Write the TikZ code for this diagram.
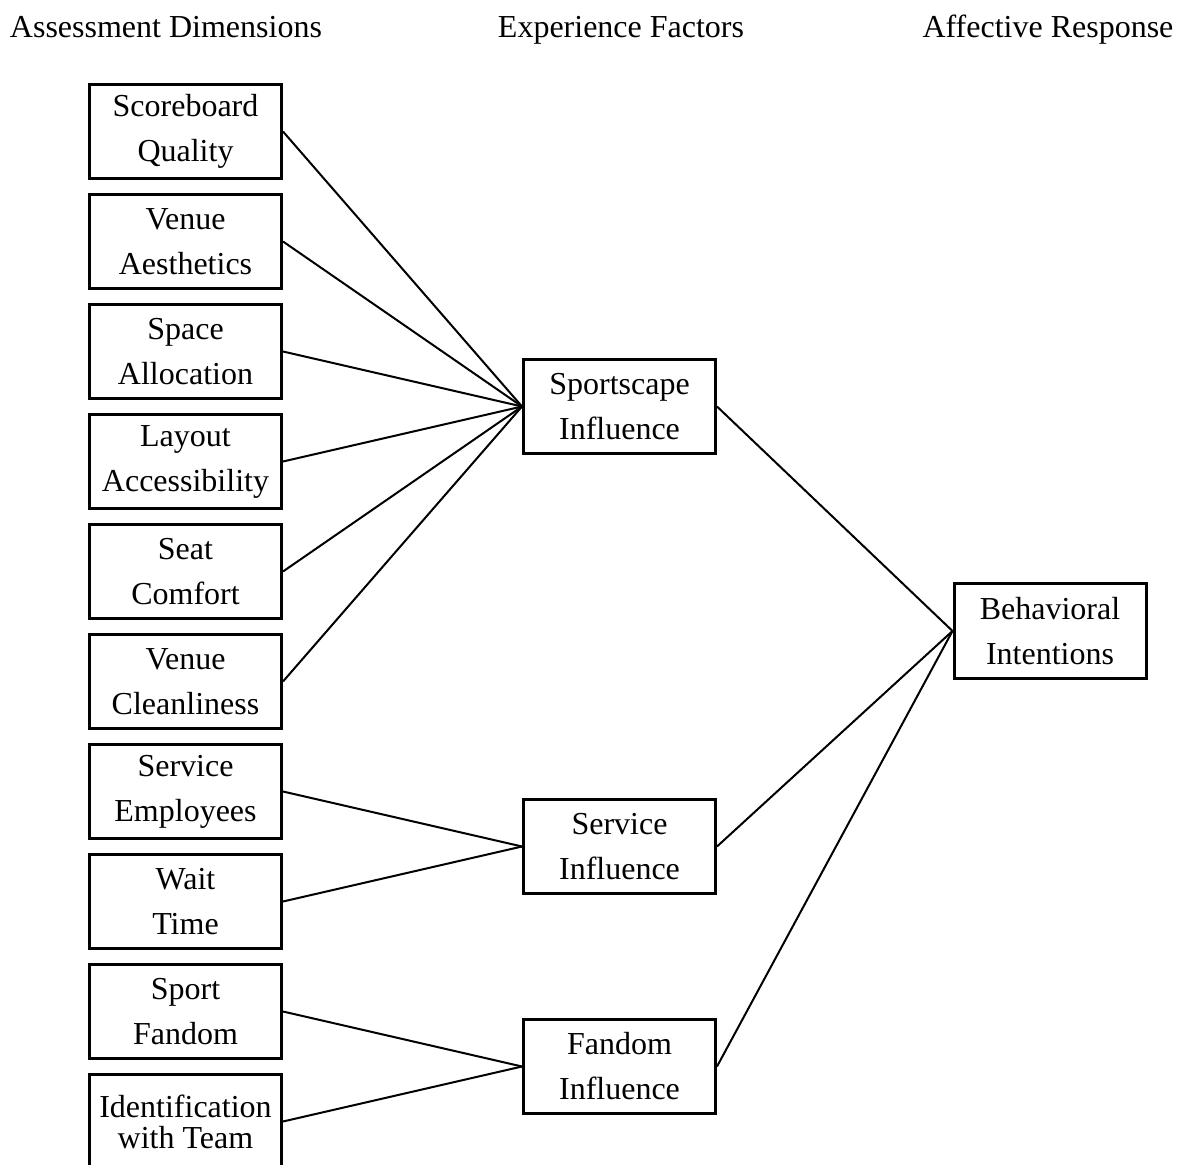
\documentclass[tikz,border=0pt]{standalone}
\usepackage{fontspec}
\setmainfont{Liberation Serif}
\begin{document}
\begin{tikzpicture}[x=0.5pt,y=-0.5pt,
  box/.style={draw, line width=1.5pt, minimum width=96pt, minimum height=47pt, inner sep=0pt, align=center, font=\fontsize{16}{22.5}\selectfont},
  hdr/.style={anchor=base, font=\fontsize{16}{19}\selectfont, inner sep=0pt},
  link/.style={line width=1pt}]
\clip (0,0) rectangle (1178,1165);
% headers
\node[hdr] (h1) at (166,38) {Assessment Dimensions};
\node[hdr] (h2) at (621,38) {Experience Factors};
\node[hdr] (h3) at (1048,38) {Affective Response};
% left column
\node[box] (sq) at (185.5,131.5) {Scoreboard\\Quality};
\node[box] (va) at (185.5,241.5) {Venue\\Aesthetics};
\node[box] (sa) at (185.5,351.5) {Space\\Allocation};
\node[box] (la) at (185.5,461.5) {Layout\\Accessibility};
\node[box] (sc) at (185.5,571.5) {Seat\\Comfort};
\node[box] (vc) at (185.5,681.5) {Venue\\Cleanliness};
\node[box] (se) at (185.5,791.5) {Service\\Employees};
\node[box] (wt) at (185.5,901.5) {Wait\\Time};
\node[box] (sf) at (185.5,1011.5) {Sport\\Fandom};
\node[box, font=\fontsize{16}{15.5}\selectfont] (it) at (185.5,1121.5) {Identification\\with Team};
% middle column
\node[box] (sp) at (619.5,406.5) {Sportscape\\Influence};
\node[box] (sv) at (619.5,846.5) {Service\\Influence};
\node[box] (fd) at (619.5,1066.5) {Fandom\\Influence};
% right
\node[box] (bi) at (1050,631) {Behavioral\\Intentions};
% links
\foreach \n in {sq,va,sa,la,sc,vc} \draw[link] (\n.east) -- (sp.west);
\foreach \n in {se,wt} \draw[link] (\n.east) -- (sv.west);
\foreach \n in {sf,it} \draw[link] (\n.east) -- (fd.west);
\foreach \n in {sp,sv,fd} \draw[link] (\n.east) -- (bi.west);
\end{tikzpicture}
\end{document}
